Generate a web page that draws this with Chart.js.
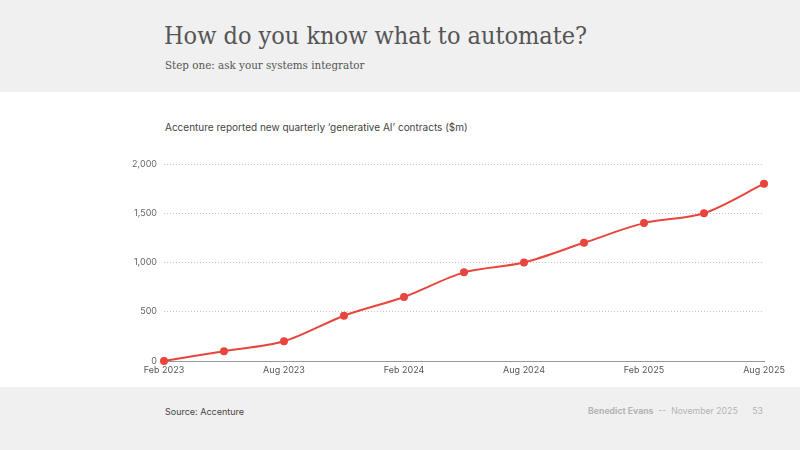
<!DOCTYPE html>
<html>
<head>
<meta charset="utf-8">
<script src="https://cdn.jsdelivr.net/npm/chart.js@4"></script>
<style>
  html, body { margin: 0; padding: 0; }
  body { width: 800px; height: 450px; background: #f0f0f0; position: relative; overflow: hidden; font-family: Inter, "Liberation Sans", sans-serif; }
  .band { position: absolute; left: 0; top: 92px; width: 800px; height: 295px; background: #fff; }
  .serif { font-family: "DejaVu Serif Condensed", "DejaVu Serif", serif; font-stretch: condensed; }
  .title { position: absolute; left: 164px; top: 21px; font-size: 25px; color: #555; white-space: nowrap; }
  .sub { position: absolute; left: 165px; top: 58px; font-size: 11.5px; color: #555; white-space: nowrap; }
  .ctitle { position: absolute; left: 165px; top: 121px; font-size: 10px; color: #444; white-space: nowrap; }
  .source { position: absolute; left: 165px; top: 406px; font-size: 9px; color: #444; }
  .foot { position: absolute; right: 37px; top: 406px; font-size: 8.7px; color: #b4b4b4; white-space: nowrap; }
  .foot b { font-weight: 700; }
  #wrap { position: absolute; left: 0; top: 92px; width: 800px; height: 295px; }
</style>
</head>
<body>
<div class="band"></div>
<div class="title serif">How do you know what to automate?</div>
<div class="sub serif">Step one: ask your systems integrator</div>
<div class="ctitle">Accenture reported new quarterly ‘generative AI’ contracts ($m)</div>
<div id="wrap"><canvas id="chart"></canvas></div>
<div class="source">Source: Accenture</div>
<div class="foot"><b>Benedict Evans</b> &nbsp;--&nbsp; November 2025 &nbsp;&nbsp;&nbsp;&nbsp; 53</div>
<script>
const quarters = ['Feb 2023', 'May 2023', 'Aug 2023', 'Nov 2023', 'Feb 2024', 'May 2024',
  'Aug 2024', 'Nov 2024', 'Feb 2025', 'May 2025', 'Aug 2025'];
const contracts = [0, 100, 200, 460, 650, 900, 1000, 1200, 1400, 1500, 1800];
const yTicks = [0, 500, 1000, 1500, 2000];

const red = '#e8453c';

new Chart(document.getElementById('chart'), {
  type: 'line',
  data: {
    labels: quarters,
    datasets: [{
      data: contracts,
      borderColor: red,
      backgroundColor: red,
      borderWidth: 2,
      tension: 0.3,
      pointRadius: 3,
      pointHoverRadius: 3,
      clip: false,
    }],
  },
  options: {
    responsive: true,
    maintainAspectRatio: false,
    animation: false,
    layout: { padding: { left: 113, right: 36, top: 72, bottom: 0 } },
    plugins: { legend: { display: false }, tooltip: { enabled: false } },
    scales: {
      x: {
        offset: false,
        grid: { display: false, drawTicks: false },
        border: { display: true, color: '#999', width: 1 },
        ticks: {
          autoSkip: false,
          maxRotation: 0,
          padding: 4,
          color: '#555',
          font: { family: 'Inter', size: 9 },
          callback: (v, i) => (i % 2 === 0 ? quarters[i] : ''),
        },
        afterFit: (s) => { s.height = 26; },
      },
      y: {
        min: 0,
        max: 2000,
        afterBuildTicks: (s) => { s.ticks = yTicks.map((v) => ({ value: v })); },
        grid: { color: '#c4c4c4', lineWidth: 1, drawTicks: false },
        border: { display: false, dash: [1, 2] },
        ticks: {
          padding: 7,
          color: '#666',
          font: { family: 'Inter', size: 9 },
          callback: (v) => v.toLocaleString('en-US'),
        },
        afterFit: (s) => { s.width = 51; },
      },
    },
  },
});
</script>
</body>
</html>
